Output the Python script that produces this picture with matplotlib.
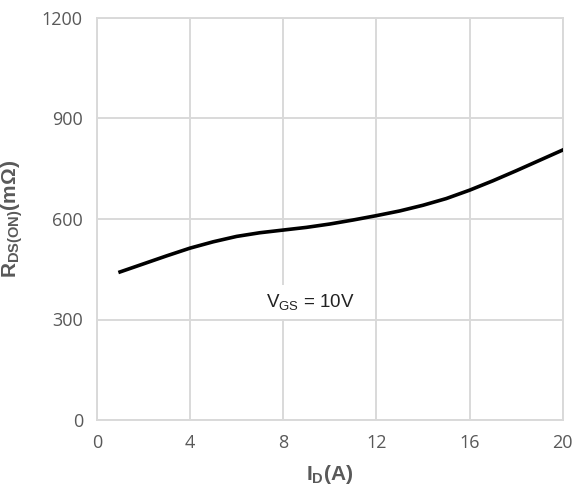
import numpy as np
import matplotlib.pyplot as plt

# Drain-source on-resistance vs drain current, VGS = 10V
i_d = [1, 2, 3, 4, 5, 6, 7, 8, 9, 10, 11, 12, 13, 14, 15, 16, 17, 18, 19, 20]
r_ds_on = [442, 466, 490, 513, 532, 548, 559, 567, 575, 585, 597, 610, 624, 641, 661, 686, 714, 744, 775, 806]

x_ticks = [0, 4, 8, 12, 16, 20]
y_ticks = [0, 300, 600, 900, 1200]

plt.rcParams['mathtext.fontset'] = 'custom'
plt.rcParams['mathtext.rm'] = 'Liberation Sans'
plt.rcParams['mathtext.bf'] = 'Liberation Sans:bold'

grid_col = '#d9d9d9'
text_col = '#595959'

fig = plt.figure(figsize=(5.76, 5.0), dpi=100)
ax = fig.add_axes([0.168, 0.16, 0.809, 0.804])

ax.plot(i_d, r_ds_on, color='black', linewidth=2.6, solid_joinstyle='round', zorder=3)

ax.set_xlim(0, 20)
ax.set_ylim(0, 1200)
ax.set_xticks(x_ticks)
ax.set_yticks(y_ticks)
ax.grid(True, color=grid_col, linewidth=1.4)
ax.set_axisbelow(True)
for s in ax.spines.values():
    s.set_color(grid_col)
    s.set_linewidth(1.4)
ax.tick_params(length=0, pad=10, labelsize=13, labelcolor=text_col)
for lab in ax.get_xticklabels() + ax.get_yticklabels():
    lab.set_fontfamily('Open Sans')

ax.set_xlabel(r'$\mathbf{I_{D}(A)}$', fontsize=15, color=text_col, labelpad=8)
ax.set_ylabel(r'$\mathbf{R_{DS(ON)}(m\Omega)}$', fontsize=15, color=text_col, labelpad=12)

ax.text(9.15, 352, r'$\mathrm{V_{GS}}$ = 10V', fontsize=13.5, family='Liberation Sans',
        ha='center', va='center', color='#222222', zorder=4,
        bbox=dict(facecolor='white', edgecolor='none', pad=5))

fig.savefig('out.png', dpi=100)
